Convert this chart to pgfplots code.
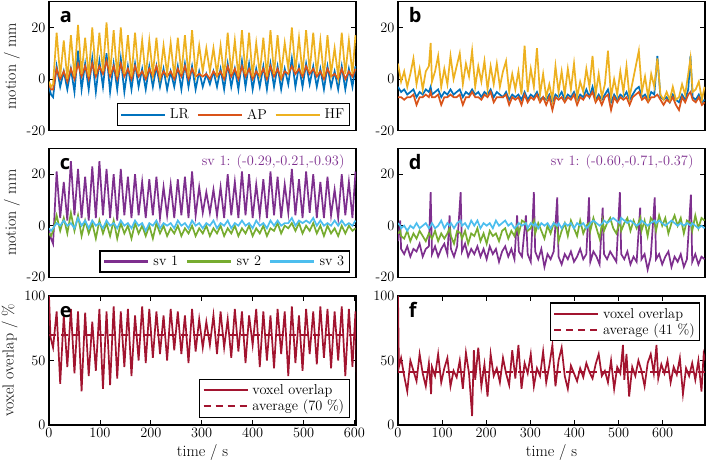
\documentclass[border=0pt]{standalone}
\usepackage{fontspec}
\newfontfamily\panelfont{Open Sans}
\usepackage{pgfplots}
\usepackage{pgfplotstable}
\pgfplotsset{compat=1.18}
\definecolor{mblue}{rgb}{0,0.447,0.741}
\definecolor{morange}{rgb}{0.850,0.325,0.098}
\definecolor{myellow}{rgb}{0.929,0.694,0.125}
\definecolor{mpurple}{rgb}{0.494,0.184,0.556}
\definecolor{mgreen}{rgb}{0.466,0.674,0.188}
\definecolor{mcyan}{rgb}{0.301,0.745,0.933}
\definecolor{mred}{rgb}{0.635,0.078,0.184}

\pgfplotstableread{
t LR AP HF
0 -3 -2 -1
4 -6 -4 -3
8 -7 -4 -2
15 5 4 18
22 -3 0 1
29 3 3 15
36 -4 -1 0
43 4 4 17
50 -5 0 1
57 11 6 21
64 -4 1 2
71 6 5 16
78 -4 0 1
85 8 6 20
92 -5 1 2
99 7 5 18
106 -3 2 3
113 10 7 22
120 -5 1 2
127 6 5 19
134 -4 0 1
141 8 6 20
148 -5 1 2
155 5 4 17
162 -4 0 1
169 6 5 18
176 -3 1 2
183 4 3 15
190 -4 0 1
197 5 4 15
204 -3 1 2
211 5 5 16
218 -3 0 1
225 4 3 13
232 -4 1 2
239 3 3 14
246 -3 0 1
253 5 4 16
260 -4 1 2
267 6 5 17
274 -3 0 1
281 5 4 19
288 -4 1 2
295 3 2 13
302 -3 1 3
309 2 2 12
316 -2 0 3
323 3 3 12
330 -3 1 2
337 4 3 13
344 -4 0 1
351 6 5 18
358 -3 1 2
365 4 4 15
372 -4 0 1
379 7 5 19
386 -3 1 2
393 6 4 18
400 -4 0 1
407 4 3 14
414 -3 1 2
421 5 4 16
428 -4 0 1
435 6 5 19
442 -3 1 2
449 5 4 17
456 -4 0 2
463 4 3 14
470 -2 2 4
477 8 5 20
484 -3 2 3
491 5 4 16
498 -3 1 2
505 6 5 19
512 -2 2 3
519 5 4 18
526 -3 1 2
533 4 3 15
540 -4 0 1
547 5 4 17
554 -3 1 2
561 3 2 12
568 -4 0 1
575 5 4 18
582 -4 0 2
589 4 3 15
596 -3 1 2
602 5 4 17
}\dataA

\pgfplotstableread{
t LR AP HF
0 -3 -7 6
7 -5 -7 -1
14 -4 -8 3
21 -6 -7 -3
28 -5 -7 2
35 -4 -6 8
42 -7 -10 -2
49 -5 -7 4
56 -6 -7 -4
63 -4 -6 3
70 -5 -7 5
74 -3 -5 14
77 -6 -7 -1
84 -5 -7 3
91 -4 -6 9
98 -7 -10 -3
105 -5 -7 4
112 -6 -7 -2
119 -4 -6 9
126 -6 -7 0
133 -5 -7 5
140 -4 -6 10
147 -7 -10 -2
154 -5 -7 6
161 -6 -7 1
168 -4 -5 11
175 -6 -7 -3
182 -5 -7 5
189 -7 -8 -1
196 -5 -6 7
203 -6 -7 -4
210 -4 -5 5
217 -7 -9 -2
224 -5 -7 6
231 -6 -7 -3
238 -7 -7 3
245 -5 -6 7
252 -8 -10 -5
259 -6 -7 2
266 -7 -8 -4
273 -6 -7 3
280 -8 -10 -6
287 -5 -6 13
294 -8 -9 -5
301 -6 -7 4
308 -7 -8 -3
315 -5 -6 12
322 -8 -9 -6
329 -7 -7 2
336 -8 -10 -7
343 -6 -7 -2
350 -9 -12 -8
357 -6 -7 5
364 -7 -8 -5
371 -5 -7 3
378 -8 -9 -6
385 -6 -7 4
392 -7 -8 -4
399 -5 -6 6
406 -8 -10 -7
413 -6 -7 -1
420 -7 -8 -5
427 -4 -6 4
434 -7 -7 -3
441 -3 -5 9
448 -8 -9 -6
455 -6 -7 2
462 -8 -10 -7
469 -6 -7 -2
476 -4 -6 11
483 -9 -12 -7
490 -6 -7 0
497 -8 -9 -6
504 -6 -7 3
511 -7 -8 -5
518 -5 -7 5
525 -8 -10 -7
532 -6 -7 -1
539 -4 -6 5
546 -3 -5 11
553 -7 -8 -5
560 -6 -7 1
567 -8 -9 -7
574 -5 -7 2
581 -6 -7 -3
588 9 -6 8
595 -7 -8 -6
602 -8 -10 -8
609 -7 -8 -5
616 -9 -9 -8
623 -6 -7 -3
630 -8 -10 -8
637 -9 -12 -7
644 -6 -7 -2
651 -8 -9 -6
658 -4 -6 2
663 9 -5 8
668 -7 -8 -5
675 -8 -9 -4
682 -6 -7 -1
689 -9 -10 -8
695 -8 -9 -3
}\dataB

\pgfplotstableread{
t s1 s2 s3
0 -2 -3 -1
4 -5 -4 -2
8 -7 -2 -1
15 21 4 1
22 3 -2 0
29 17 3 2
36 2 -3 0
43 25 5 1
50 4 -2 -1
57 22 4 3
64 3 -4 0
71 19 2 2
78 2 -3 -1
85 23 1 2
92 3 -5 0
99 25 2 1
106 4 -3 -1
113 22 1 2
120 3 -4 0
127 20 2 1
134 2 -5 -1
141 22 1 2
148 4 -3 0
155 19 0 1
162 3 -5 -1
169 20 1 2
176 4 -3 0
183 17 0 1
190 3 -4 -2
197 18 0 1
204 4 -5 0
211 19 1 2
218 3 -3 -1
225 15 0 1
232 4 -4 0
239 16 -1 1
246 3 -3 -1
253 18 0 2
260 4 -4 0
267 19 -1 1
274 3 -3 -1
281 21 0 2
288 4 -4 0
295 15 -1 1
302 5 -3 -1
309 13 0 1
316 5 -4 0
323 14 -1 2
330 4 -3 -1
337 15 0 1
344 3 -4 0
351 20 -1 2
358 4 -3 -1
365 17 0 1
372 3 -4 0
379 21 -1 2
386 4 -3 0
393 20 0 1
400 3 -4 -1
407 16 -1 2
414 4 -3 0
421 18 0 1
428 3 -4 -1
435 21 -1 2
442 4 -2 0
449 19 1 2
456 3 -3 0
463 16 0 1
470 5 -1 1
477 22 1 3
484 4 -2 0
491 18 1 2
498 3 -3 1
505 21 0 2
512 5 -2 1
519 20 1 3
526 3 -3 0
533 17 0 2
540 3 -4 0
547 19 0 1
554 4 -3 0
561 14 -1 2
568 3 -4 0
575 20 0 2
582 4 -3 0
589 17 0 1
596 3 -2 0
602 21 -1 2
}\dataC

\pgfplotstableread{
t s1 s2 s3
0 -6 -3 1
5 2 -2 0
7 -9 -4 -1
14 -11 -5 0
21 -8 -2 -2
28 -12 -6 0
35 -9 -3 -1
42 -10 -5 1
49 -7 -2 -1
56 -12 -4 0
63 -9 -6 1
70 -8 -3 -1
74 13 -4 0
77 -11 -5 1
84 -8 -2 -1
91 -12 -6 0
98 -9 -3 2
105 -7 -5 -1
112 -11 -3 1
117 4 -1 0
120 -9 -4 1
127 -12 -7 -1
134 -8 -2 1
142 13 -3 2
145 -10 -5 0
152 -7 -2 1
159 -12 -7 -1
166 -9 -3 2
173 -11 -4 0
180 -8 -1 2
187 -12 -6 -1
194 -9 -3 1
201 -13 -7 0
208 -8 -2 1
215 -11 -4 -1
222 -9 -3 2
229 -14 -6 0
236 -10 -2 1
243 -8 -1 2
250 -12 -5 0
257 -9 -2 1
264 -13 -4 -1
270 4 0 0
274 -10 -3 1
281 -12 2 0
290 4 1 1
294 -11 -2 -1
301 -14 -1 1
308 13 2 0
311 -10 -3 1
318 -13 1 -1
325 -9 -2 1
332 -16 -5 0
339 -11 0 1
346 -13 -3 -1
353 -10 1 1
361 11 -1 0
364 -12 -6 1
371 -15 -2 -1
378 -11 1 1
385 -13 -4 0
392 -10 2 1
399 -14 -1 -1
406 -12 -4 1
413 -9 2 0
420 -13 -3 1
427 -11 0 -1
433 11 1 0
436 -14 -2 1
443 -10 3 2
450 -12 -1 1
457 -15 -5 0
464 7 2 1
467 -11 -2 2
474 -13 1 1
481 -10 3 2
488 -12 -1 3
495 -14 -3 2
503 13 2 1
506 -11 -2 3
513 -13 1 2
520 -10 3 1
527 -15 -2 2
534 -12 2 1
541 -14 -1 0
549 7 3 1
552 -13 -2 2
559 -11 2 1
566 -17 -4 0
573 -12 3 1
582 11 1 2
585 -13 -2 1
592 -11 4 2
599 -15 0 1
606 -12 3 0
613 -10 -3 1
620 -16 1 2
627 -12 4 1
634 -14 0 0
641 -11 3 1
648 -16 -3 0
655 -13 2 1
664 12 1 0
667 -14 -2 1
674 -11 4 0
681 -15 -1 -1
688 -12 3 0
695 -13 2 -1
}\dataD

\pgfplotstableread{
t v
0 100
3 68
8 60
15 88
22 32
29 85
36 45
43 90
50 40
57 88
64 26
71 87
78 38
85 80
92 42
99 90
106 28
113 88
120 31
127 92
134 36
141 88
148 45
155 90
162 38
169 85
176 50
183 92
190 48
197 90
204 52
211 88
218 55
225 85
232 50
239 90
246 58
253 88
260 55
267 85
274 48
281 90
288 57
295 82
302 60
309 80
316 62
323 85
330 55
337 88
344 60
351 82
358 52
365 90
372 57
379 88
386 48
393 85
400 62
407 90
414 45
421 88
428 50
435 85
442 44
449 90
456 55
463 88
470 38
477 92
484 48
491 85
498 42
505 90
512 55
519 88
526 47
533 92
540 52
547 90
554 44
561 88
568 50
575 92
582 38
589 90
596 45
602 88
605 35
}\dataE

\pgfplotstableread{
t v
0 100
2 45
7 52
14 38
21 26
28 50
35 42
42 34
49 55
56 40
63 30
70 48
75 24
77 45
84 38
91 55
98 33
105 44
112 52
119 30
126 42
133 37
140 50
147 28
154 56
161 40
168 7
172 58
175 35
182 60
189 30
196 47
203 22
210 55
217 38
224 44
231 33
238 52
245 40
252 31
259 58
266 36
273 62
280 28
287 48
294 40
301 55
308 30
315 44
322 38
329 57
336 33
343 46
350 62
357 30
364 50
371 60
378 38
385 28
392 46
399 40
406 34
413 44
420 37
427 48
434 41
441 36
448 47
455 55
462 38
469 42
476 33
483 50
490 28
497 45
504 40
510 62
513 35
518 55
524 22
531 45
538 38
545 50
552 42
559 30
566 48
573 55
580 40
586 62
590 36
597 47
604 40
611 50
618 33
625 45
632 39
639 52
646 24
653 44
660 38
667 48
674 35
681 50
688 26
693 55
697 50
}\dataF

\pgfplotsset{
  panel/.style={
    scale only axis, width=307bp, height=129bp,
    anchor=south west,
    axis line style={line width=1.3bp},
    tick style={line width=0.8bp, black},
    major tick length=5bp, tick align=inside,
    font=\Large,
    xticklabel style={font=\Large},
    yticklabel style={font=\Large},
    xlabel style={font=\fontsize{16}{19}\selectfont},
    ylabel style={font=\fontsize{16}{19}\selectfont},
    every axis plot/.append style={line width=1.7bp},
    legend style={draw=black, line width=1.3bp, font=\Large, inner sep=3bp,
      /tikz/every odd column/.append style={column sep=2bp}},
    legend cell align=left,
    legend image code/.code={\draw[#1] (0bp,0bp) -- (44bp,0bp);},
  },
  motion/.style={panel, xtick=\empty, ymin=-20, ymax=30,
    ytick={-20,0,20}, yticklabels={-20,0,20}},
  overlap/.style={panel, ymin=0, ymax=100, ytick={0,50,100},
    xtick={0,100,...,600}, xlabel={time / s}},
}
\newcommand{\plabel}[1]{\node[anchor=base west, font=\panelfont\bfseries\fontsize{20}{20}\selectfont] at (rel axis cs:0.024,0.835) {#1};}

\begin{document}
\begin{tikzpicture}
\useasboundingbox (0bp,0bp) rectangle (708bp,468bp);
% a
\begin{axis}[motion, at={(49bp,337.3bp)}, xmin=0, xmax=603, ylabel={motion / mm},
  legend columns=3, legend style={at={(rel axis cs:0.98,0.035)}, anchor=south east,
  /tikz/every even column/.append style={column sep=6bp}}]
\addplot[mblue, forget plot] table[x=t,y=LR] {\dataA};
\addplot[morange, forget plot] table[x=t,y=AP] {\dataA};
\addplot[myellow, forget plot] table[x=t,y=HF] {\dataA};
\addlegendimage{mblue, line width=1.7bp}
\addlegendentry{LR}
\addlegendimage{morange, line width=1.7bp}
\addlegendentry{AP}
\addlegendimage{myellow, line width=1.7bp}
\addlegendentry{HF}
\plabel{a}
\end{axis}
% b
\begin{axis}[motion, at={(398bp,337.3bp)}, xmin=0, xmax=696]
\addplot[mblue] table[x=t,y=LR] {\dataB};
\addplot[morange] table[x=t,y=AP] {\dataB};
\addplot[myellow] table[x=t,y=HF] {\dataB};
\plabel{b}
\end{axis}
% c
\begin{axis}[motion, name=axc, at={(49bp,190.7bp)}, xmin=0, xmax=603, ylabel={motion / mm},
  legend columns=3, legend style={at={(rel axis cs:0.98,0.035)}, anchor=south east,
  /tikz/every even column/.append style={column sep=6bp}}]
\addplot[mpurple, forget plot] table[x=t,y=s1] {\dataC};
\addplot[mgreen, forget plot] table[x=t,y=s2] {\dataC};
\addplot[mcyan, forget plot] table[x=t,y=s3] {\dataC};
\addlegendimage{mpurple, line width=2.4bp}
\addlegendentry{sv 1}
\addlegendimage{mgreen, line width=2.4bp}
\addlegendentry{sv 2}
\addlegendimage{mcyan, line width=2.4bp}
\addlegendentry{sv 3}
\plabel{c}
\end{axis}
\node[anchor=base east, text=mpurple, font=\Large] at ([xshift=-8bp, yshift=-16.7bp]axc.north east) {sv 1: (-0.29,-0.21,-0.93)};
% d
\begin{axis}[motion, name=axd, at={(398bp,190.7bp)}, xmin=0, xmax=696]
\addplot[mpurple] table[x=t,y=s1] {\dataD};
\addplot[mgreen] table[x=t,y=s2] {\dataD};
\addplot[mcyan] table[x=t,y=s3] {\dataD};
\plabel{d}
\end{axis}
\node[anchor=base east, text=mpurple, font=\Large] at ([xshift=-8bp, yshift=-16.7bp]axd.north east) {sv 1: (-0.60,-0.71,-0.37)};
% e
\begin{axis}[overlap, at={(49bp,43bp)}, xmin=0, xmax=603, ylabel={voxel overlap / \%},
  legend style={at={(rel axis cs:0.98,0.055)}, anchor=south east}]
\addplot[mred, forget plot] table[x=t,y=v] {\dataE};
\addplot[mred, dashed, dash pattern=on 7bp off 5bp, forget plot] coordinates {(0,70) (603,70)};
\addlegendimage{mred, line width=1.7bp}
\addlegendentry{voxel overlap}
\addlegendimage{mred, line width=1.7bp, dash pattern=on 7bp off 5bp}
\addlegendentry{average (70 \%)}
\plabel{e}
\end{axis}
% f
\begin{axis}[overlap, at={(398bp,43bp)}, xmin=0, xmax=696,
  legend style={at={(rel axis cs:0.985,0.95)}, anchor=north east}]
\addplot[mred, forget plot] table[x=t,y=v] {\dataF};
\addplot[mred, dashed, dash pattern=on 7bp off 5bp, forget plot] coordinates {(0,41) (696,41)};
\addlegendimage{mred, line width=1.7bp}
\addlegendentry{voxel overlap}
\addlegendimage{mred, line width=1.7bp, dash pattern=on 7bp off 5bp}
\addlegendentry{average (41 \%)}
\plabel{f}
\end{axis}
\end{tikzpicture}
\end{document}
